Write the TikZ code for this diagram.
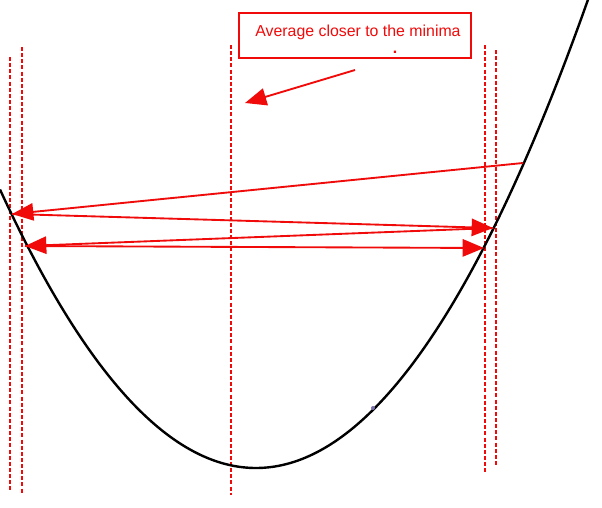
\documentclass[tikz,border=0pt]{standalone}
\usepackage{fontspec}
\setmainfont{Liberation Sans}
\usepackage{xcolor}
\usetikzlibrary{arrows.meta,positioning,calc}
\definecolor{clrR}{RGB}{240,10,10}
\definecolor{clrDot}{RGB}{120,110,170}
\tikzset{
  guide/.style={draw=clrR,line width=1.6pt,dash pattern=on 3pt off 1.6pt},
  curve/.style={draw=black,line width=1.8pt},
  jump/.style={-{Triangle[length=16pt,width=13pt]},draw=clrR,fill=clrR,line width=1.4pt},
  note/.style={rectangle,draw=clrR,line width=1.8pt,minimum width=174pt,minimum height=34pt,inner sep=0pt},
  notetext/.style={text=clrR,font=\fontsize{11.9}{14}\selectfont,inner sep=0pt}
}
\begin{document}
\begin{tikzpicture}[x=0.75pt,y=-0.75pt]
  \useasboundingbox (0,0) rectangle (602,507);
  % dashed guides
  \draw[guide] (10,57) -- (10,490);
  \draw[guide] (22,47) -- (22,493);
  \draw[guide] (231,45) -- (231,495);
  \draw[guide] (485,45) -- (485,472);
  \draw[guide] (496,50) -- (496,466);
  % the function
  \draw[curve,domain=0:589,samples=80,smooth] plot (\x,{468-(0.06519*(\x-256))^2});
  \fill[clrDot] (373,408) circle (2);
  % iterates
  \coordinate (p0) at (523,163);
  \coordinate (p1) at (12,214);
  \coordinate (p2) at (493,228);
  \coordinate (p3) at (25,246);
  \coordinate (p4) at (484,248);
  \draw[jump] (p0) -- (p1);
  \draw[jump] (p1) -- (p2);
  \draw[jump] (p2) -- (p3);
  \draw[jump] (p3) -- (p4);
  % annotation
  \node[note] (box) at (355,35.5) {};
  \node[notetext] (label) at (358,32) {Average closer to the minima};
  \node[notetext,anchor=base] (dot) at (395,53) {\textbf{.}};
  \coordinate (tail) at (355,70);
  \coordinate (head) at (245,103);
  \draw[jump] (tail) -- (head);
\end{tikzpicture}
\end{document}
